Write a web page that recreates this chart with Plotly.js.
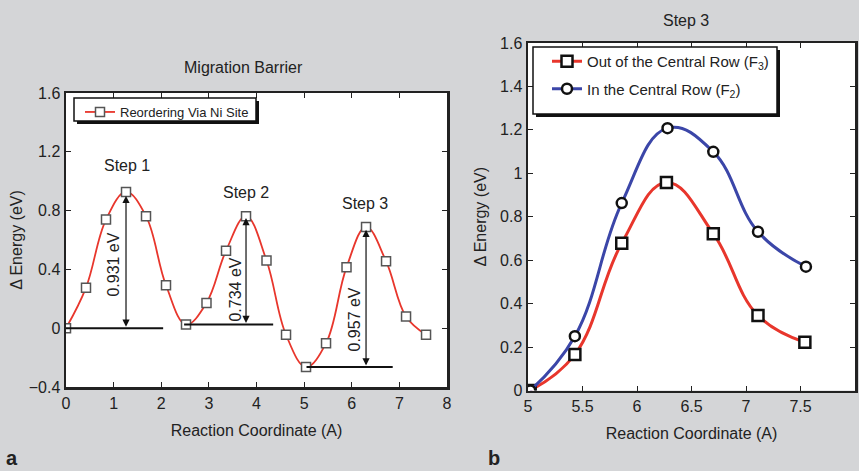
<!DOCTYPE html>
<html>
<head>
<meta charset="utf-8">
<script src="https://cdn.plot.ly/plotly-3.0.1.min.js"></script>
<style>html,body{margin:0;padding:0;background:#d4d5d7;}#chart{width:859px;height:471px;}</style>
</head>
<body>
<div id="chart"></div>
<script>
// Panel a: Migration barrier, reordering via Ni site
const xA = [0, 0.42, 0.84, 1.26, 1.68, 2.10, 2.52, 2.95, 3.36, 3.78, 4.21, 4.62, 5.04, 5.46, 5.89, 6.30, 6.72, 7.14, 7.56];
const yA = [0, 0.276, 0.739, 0.927, 0.762, 0.292, 0.025, 0.172, 0.527, 0.762, 0.461, -0.045, -0.264, -0.102, 0.414, 0.689, 0.456, 0.079, -0.045];
const nameA = 'Reordering Via Ni Site';

// Panel b: Step 3
const xOut = [5.02, 5.43, 5.86, 6.27, 6.70, 7.11, 7.54];
const yOut = [0, 0.166, 0.678, 0.958, 0.722, 0.345, 0.222];
const nameOut = 'Out of the Central Row (F<sub>3</sub>)';
const xIn = [5.02, 5.43, 5.86, 6.28, 6.70, 7.11, 7.55];
const yIn = [0, 0.250, 0.863, 1.208, 1.099, 0.731, 0.570];
const nameIn = 'In the Central Row (F<sub>2</sub>)';

// Barrier annotations (panel a)
const stepLabels = ['Step 1', 'Step 2', 'Step 3'];
const stepLabelX = [1.29, 3.77, 6.27];
const stepLabelY = [1.11, 0.92, 0.85];
const barrierText = ['0.931 eV', '0.734 eV', '0.957 eV'];
const arrowX = [1.26, 3.78, 6.30];
const arrowTop = [0.90, 0.75, 0.67];
const arrowBottom = [0, 0.025, -0.264];
const baseX0 = [0, 2.48, 5.05];
const baseX1 = [2.04, 4.35, 6.86];
const barrierTextX = [1.0, 3.56, 6.05];
const barrierTextY = [0.43, 0.26, 0.06];

const FONT = 'Liberation Sans, Arial, sans-serif';
const RED = '#e8362c';
const BLUE = '#3b46a8';
const AX = '#222222';

const W = 859, H = 471;
const px = v => v / W;
const py = v => (H - v) / H;

const traces = [
  {x: xA, y: yA, name: nameA, xaxis: 'x', yaxis: 'y', legend: 'legend', showlegend: true,
   mode: 'lines+markers', line: {color: RED, width: 1.8, shape: 'spline', smoothing: 1.1},
   marker: {symbol: 'square', size: 9, color: '#ffffff', line: {color: '#555555', width: 1.5}}},
  {x: xOut, y: yOut, name: nameOut, xaxis: 'x2', yaxis: 'y2', legend: 'legend2', legendgroup: 'g1', showlegend: true,
   mode: 'lines+markers', line: {color: RED, width: 3, shape: 'spline', smoothing: 1.2},
   marker: {symbol: 'square', size: 11, color: '#ffffff', line: {color: '#111111', width: 2.5}}},
  {x: xIn, y: yIn, name: nameIn, xaxis: 'x2', yaxis: 'y2', legend: 'legend2', legendgroup: 'g2', showlegend: true,
   mode: 'lines+markers', line: {color: BLUE, width: 3, shape: 'spline', smoothing: 1.2},
   marker: {symbol: 'circle', size: 10, color: '#ffffff', line: {color: '#111111', width: 2.5}}}
];

function axisCommon() {
  return {showline: true, mirror: 'ticks', linewidth: 2.5, linecolor: AX,
          ticks: 'inside', ticklen: 5, tickwidth: 1, tickcolor: AX,
          showgrid: false, zeroline: false,
          tickfont: {family: FONT, size: 16, color: '#222'},
          title: {font: {family: FONT, size: 16, color: '#222'}}};
}

const xaxis = Object.assign(axisCommon(), {domain: [px(66), px(447)], range: [0, 8], dtick: 1, tick0: 0, anchor: 'y'});
xaxis.title.text = 'Reaction Coordinate (A)'; xaxis.title.standoff = 14;
const yaxis = Object.assign(axisCommon(), {domain: [py(387), py(93)], range: [-0.4, 1.6], dtick: 0.4, tick0: -0.4, anchor: 'x'});
yaxis.title.text = 'Δ Energy (eV)'; yaxis.title.standoff = 2;
const xaxis2 = Object.assign(axisCommon(), {domain: [px(528), px(855)], range: [5, 8], dtick: 0.5, tick0: 5, anchor: 'y2'});
xaxis2.title.text = 'Reaction Coordinate (A)'; xaxis2.title.standoff = 14;
const yaxis2 = Object.assign(axisCommon(), {domain: [py(390.5), py(43)], range: [0, 1.6], dtick: 0.2, tick0: 0, anchor: 'x2'});
yaxis2.title.text = 'Δ Energy (eV)'; yaxis2.title.standoff = 10;

const annotations = [
  {text: 'Migration Barrier', xref: 'paper', yref: 'paper', x: px(243), y: py(68), xanchor: 'center', yanchor: 'middle', showarrow: false, font: {family: FONT, size: 16, color: '#222'}},
  {text: 'Step 3', xref: 'paper', yref: 'paper', x: px(686), y: py(21), xanchor: 'center', yanchor: 'middle', showarrow: false, font: {family: FONT, size: 16, color: '#222'}},
  {text: '<b>a</b>', xref: 'paper', yref: 'paper', x: px(4), y: 0, xanchor: 'left', yanchor: 'bottom', showarrow: false, font: {family: FONT, size: 20, color: '#222'}},
  {text: '<b>b</b>', xref: 'paper', yref: 'paper', x: px(486), y: 0, xanchor: 'left', yanchor: 'bottom', showarrow: false, font: {family: FONT, size: 20, color: '#222'}}
];
const shapes = [];
for (let i = 0; i < 3; i++) {
  annotations.push({text: stepLabels[i], xref: 'x', yref: 'y', x: stepLabelX[i], y: stepLabelY[i], showarrow: false,
    font: {family: FONT, size: 16, color: '#222'}});
  annotations.push({text: barrierText[i], xref: 'x', yref: 'y', x: barrierTextX[i], y: barrierTextY[i], showarrow: false, textangle: -90,
    font: {family: FONT, size: 16, color: '#222'}});
  annotations.push({text: '', xref: 'x', yref: 'y', axref: 'x', ayref: 'y', x: arrowX[i], y: arrowTop[i], ax: arrowX[i], ay: arrowBottom[i],
    showarrow: true, arrowhead: 2, startarrowhead: 2, arrowside: 'end+start', arrowsize: 1.2, arrowwidth: 1.2, arrowcolor: '#111'});
  shapes.push({type: 'line', xref: 'x', yref: 'y', x0: baseX0[i], x1: baseX1[i], y0: arrowBottom[i], y1: arrowBottom[i], line: {color: '#111', width: 2}});
}
// legend boxes with drop shadows
function legendBox(x0, y0, x1, y1) {
  shapes.push({type: 'rect', xref: 'paper', yref: 'paper', layer: 'above', x0: px(x0 + 3), x1: px(x1 + 3), y0: py(y1 + 3), y1: py(y0 + 3), fillcolor: '#111', line: {width: 0}});
  shapes.push({type: 'rect', xref: 'paper', yref: 'paper', layer: 'above', x0: px(x0), x1: px(x1), y0: py(y1), y1: py(y0), fillcolor: '#ffffff', line: {color: '#111', width: 1.5}});
}
legendBox(74, 98, 256, 121);
legendBox(533, 47, 777, 114);

const layout = {
  width: W, height: H,
  margin: {l: 0, r: 0, t: 0, b: 0},
  paper_bgcolor: '#d4d5d7', plot_bgcolor: '#ffffff',
  font: {family: FONT, color: '#222'},
  showlegend: true,
  xaxis, yaxis, xaxis2, yaxis2,
  legend: {x: px(80), y: py(97), xanchor: 'left', yanchor: 'top', bgcolor: 'rgba(0,0,0,0)', borderwidth: 0,
           font: {family: FONT, size: 13, color: '#222'}, tracegroupgap: 0},
  legend2: {x: px(547), y: py(45), xanchor: 'left', yanchor: 'top', bgcolor: 'rgba(0,0,0,0)', borderwidth: 0,
            font: {family: FONT, size: 15, color: '#222'}, traceorder: 'grouped', tracegroupgap: 5},
  annotations, shapes
};

Plotly.newPlot('chart', traces, layout, {displayModeBar: false, staticPlot: true});
</script>
</body>
</html>
